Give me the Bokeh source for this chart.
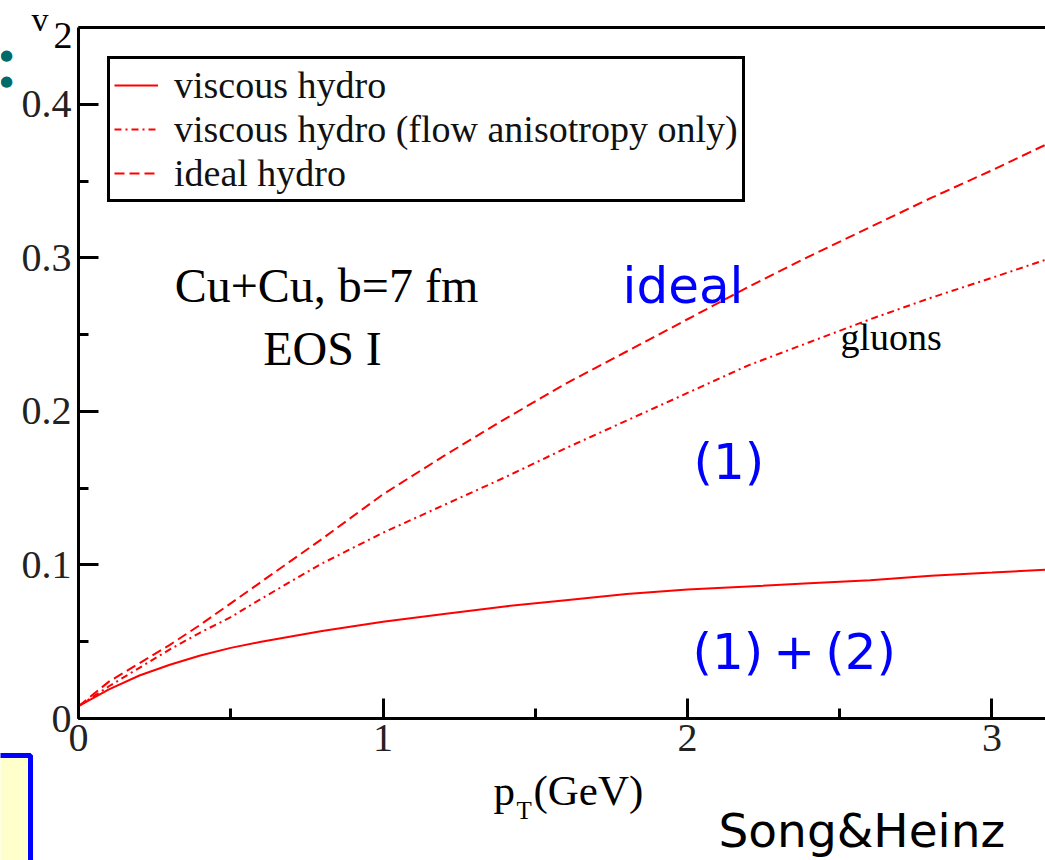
from bokeh.plotting import figure
from bokeh.models import Label, BoxAnnotation, SingleIntervalTicker, LinearAxis, Range1d
from bokeh.embed import file_html
from bokeh.resources import INLINE

# data
pt = [0, 0.1, 0.2, 0.3, 0.4, 0.5, 0.6, 0.8, 1.0, 1.2, 1.4, 1.6, 1.8, 2.0, 2.2, 2.4, 2.6, 2.8, 3.0, 3.18]
v2_viscous = [0.008, 0.019, 0.028, 0.035, 0.041, 0.046, 0.050, 0.057, 0.063, 0.068, 0.073, 0.077,
              0.081, 0.084, 0.086, 0.088, 0.090, 0.093, 0.095, 0.097]
v2_flow_only = [0.008, 0.021, 0.033, 0.045, 0.056, 0.066, 0.078, 0.101, 0.121, 0.139, 0.157, 0.176,
                0.194, 0.212, 0.230, 0.245, 0.260, 0.274, 0.287, 0.299]
v2_ideal = [0.008, 0.024, 0.036, 0.048, 0.061, 0.075, 0.089, 0.117, 0.146, 0.171, 0.195, 0.218,
            0.239, 0.260, 0.281, 0.301, 0.320, 0.339, 0.357, 0.374]
series_labels = ["viscous hydro", "viscous hydro (flow anisotropy only)", "ideal hydro"]
x_ticks_interval = 1.0
y_ticks_interval = 0.1

SERIF = "Liberation Serif"
SANS = "DejaVu Sans"
W, H = 1045, 860

# visible data window of the axes box
X0, X1 = 0.0, 3.1757
Y0, Y1 = 0.0, 0.45
# frame covers the whole canvas; axes are pinned at x=0 / y=0
p = figure(width=W, height=H,
           x_range=Range1d(-0.25616, 3.17570), y_range=Range1d(-0.09247, 0.46757),
           output_backend="svg", toolbar_location=None,
           x_axis_location=None, y_axis_location=None,
           min_border_left=0, min_border_right=0, min_border_top=0, min_border_bottom=0)
p.title.visible = False
p.outline_line_color = None
p.grid.visible = False
p.background_fill_color = "white"
p.border_fill_color = "white"

p.line(pt, v2_viscous, line_color="red", line_width=2, legend_label=series_labels[0])
p.line(pt, v2_flow_only, line_color="red", line_width=2, line_dash="7 4 2 4", legend_label=series_labels[1])
p.line(pt, v2_ideal, line_color="red", line_width=2, line_dash="10 5", legend_label=series_labels[2])

def style_axis(ax, interval):
    ax.ticker = SingleIntervalTicker(interval=interval, num_minor_ticks=2)
    ax.axis_line_width = 3
    ax.axis_line_color = "black"
    ax.major_tick_line_width = 3
    ax.minor_tick_line_width = 3
    ax.major_tick_in = 20
    ax.major_tick_out = 0
    ax.minor_tick_in = 10
    ax.minor_tick_out = 0
    ax.major_label_text_font = SERIF
    ax.major_label_text_font_size = "40px"
    ax.major_label_text_color = "#222222"

xax = LinearAxis(fixed_location=0.0, bounds=(X0, X1))
style_axis(xax, x_ticks_interval)
xax.major_label_standoff = 6
p.add_layout(xax, "below")

yax = LinearAxis(fixed_location=0.0, bounds=(Y0, Y1))
style_axis(yax, y_ticks_interval)
yax.major_label_standoff = 7
p.add_layout(yax, "left")

# top frame line
top = LinearAxis(fixed_location=Y1, bounds=(X0, X1))
top.axis_line_width = 3
top.major_tick_line_color = None
top.minor_tick_line_color = None
top.major_label_text_alpha = 0
p.add_layout(top, "above")

lg = p.legend[0]
lg.location = (107, 658)
lg.border_line_color = "black"
lg.border_line_width = 3
lg.border_line_alpha = 1.0
lg.padding = 4
lg.spacing = 0
lg.margin = 0
lg.label_text_font = SERIF
lg.label_text_font_size = "38px"
lg.label_text_color = "#111111"
lg.glyph_width = 44
lg.glyph_height = 44
lg.label_height = 44
lg.label_standoff = 16
lg.background_fill_alpha = 1.0

K = 0.36  # baseline correction factor

def lab(text, px, py_base, font, size, color="black", align="left"):
    sy = (H - py_base) + K * size
    p.add_layout(Label(x=px, y=sy, x_units="screen", y_units="screen", text=text,
                       text_font=font, text_font_size=f"{size}px", text_color=color,
                       text_align=align, text_baseline="alphabetic"))

# annotations (canvas pixel positions)
lab("Cu+Cu, b=7 fm", 326, 302, SERIF, 48, align="center")
lab("EOS I", 322, 365, SERIF, 48, align="center")
lab("gluons", 840, 350, SERIF, 38)
lab("ideal", 622, 303, SANS, 50, color="blue")
lab("(1)", 693, 479, SANS, 50, color="blue")
lab("(1)\u2009+\u2009(2)", 692, 669, SANS, 50, color="blue")
lab("Song&Heinz", 718, 847, SANS, 47)

# axis titles
lab("p", 493, 805, SERIF, 43)
lab("T", 516, 819, SERIF, 25)
lab("(GeV)", 533, 805, SERIF, 43)
lab("v", 31, 31, SERIF, 34)
lab("2", 53, 49, SERIF, 38)

# slide decorations
lab("\u25cf", 6, 60, SANS, 15, color="#006b6b", align="center")
lab("\u25cf", 6, 86, SANS, 15, color="#006b6b", align="center")
p.add_layout(BoxAnnotation(left=-20, right=30, top=H - 755, bottom=-20,
                           left_units="screen", right_units="screen",
                           top_units="screen", bottom_units="screen",
                           fill_color="#ffffcc", fill_alpha=1.0,
                           line_color="blue", line_width=5, line_alpha=1.0))

open("out.html", "w").write(file_html(p, INLINE))
